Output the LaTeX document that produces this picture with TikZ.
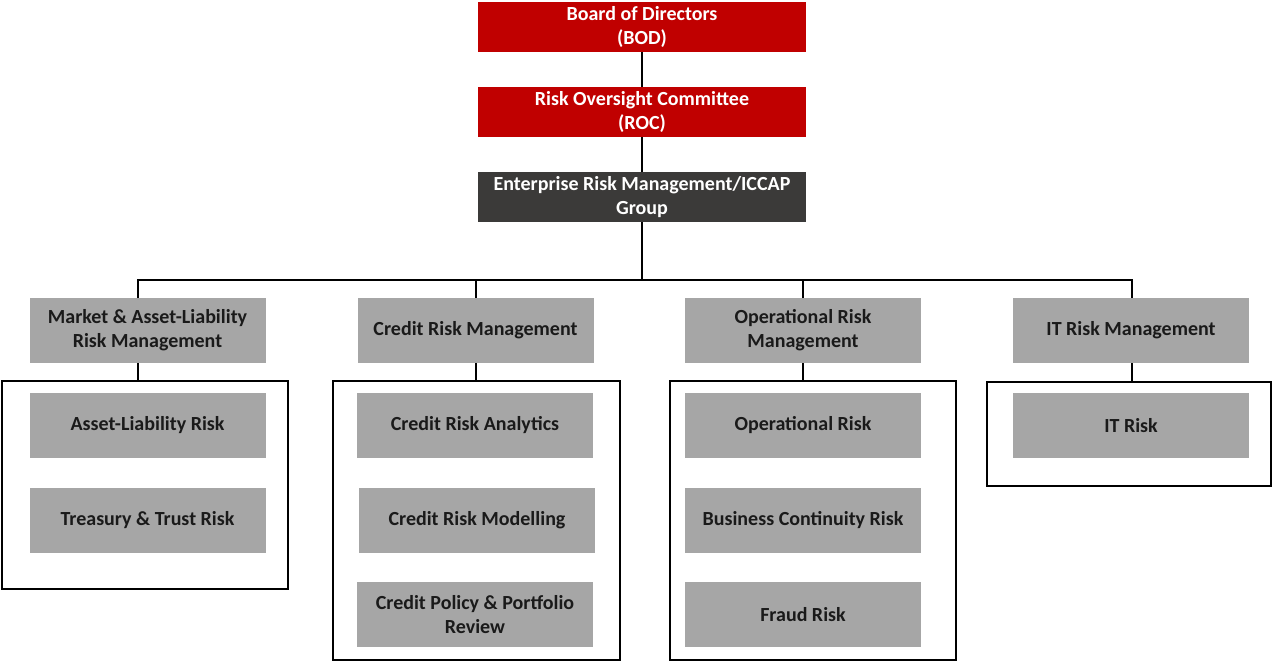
\documentclass[tikz,border=0pt]{standalone}
\usepackage{fontspec}
\setmainfont{Carlito}
\definecolor{boardred}{HTML}{C00000}
\definecolor{ermgray}{HTML}{3B3A39}
\definecolor{unitgray}{HTML}{A6A6A6}
\definecolor{inktext}{HTML}{1A1A1A}
\begin{document}
\begin{tikzpicture}[x=0.75pt,y=-0.75pt,
  every node/.style={inner sep=0pt,outer sep=0pt,font=\bfseries\fontsize{15}{18}\selectfont,align=center},
  topbox/.style={rectangle,fill=boardred,text=white,minimum width=246pt,minimum height=37.5pt},
  ermbox/.style={rectangle,fill=ermgray,text=white,minimum width=246pt,minimum height=37.5pt},
  unitbox/.style={rectangle,fill=unitgray,text=inktext,minimum width=177pt,minimum height=48.75pt},
  groupbox/.style={rectangle,draw=black,line width=1.1pt},
  link/.style={draw=black,line width=1.5pt}]
\useasboundingbox (0,0) rectangle (1272,662);

% governance chain
\node[topbox] (bod) at (642,27) {Board of Directors\\(BOD)};
\node[topbox] (roc) at (642,112) {Risk Oversight Committee\\(ROC)};
\node[ermbox] (erm) at (642,197) {Enterprise Risk Management/ICCAP\\Group};

% risk management units
\node[unitbox] (mkt) at (147.5,330.5) {Market \& Asset-Liability\\Risk Management};
\node[unitbox] (crm) at (475.5,330.5) {Credit Risk Management};
\node[unitbox] (orm) at (803,330.5) {Operational Risk\\Management};
\node[unitbox] (itm) at (1131,330.5) {IT Risk Management};

% frames around each unit's teams
\node[groupbox,minimum width=214.5pt,minimum height=156pt] (mktg) at (145,485) {};
\node[groupbox,minimum width=215.25pt,minimum height=209pt] (crmg) at (476.5,520.5) {};
\node[groupbox,minimum width=214.5pt,minimum height=209pt] (ormg) at (813,520.5) {};
\node[groupbox,minimum width=213pt,minimum height=78pt] (itmg) at (1129,434) {};

% teams
\node[unitbox] (alr) at (147.5,425.5) {Asset-Liability Risk};
\node[unitbox] (ttr) at (147.5,520) {Treasury \& Trust Risk};
\node[unitbox] (cra) at (475,425.5) {Credit Risk Analytics};
\node[unitbox] (crmod) at (477,520) {Credit Risk Modelling};
\node[unitbox] (cpr) at (475,614.5) {Credit Policy \& Portfolio\\Review};
\node[unitbox] (opr) at (803,425.5) {Operational Risk};
\node[unitbox] (bcr) at (803,520) {Business Continuity Risk};
\node[unitbox] (frd) at (803,614.5) {Fraud Risk};
\node[unitbox] (itr) at (1131,425.5) {IT Risk};

% connectors
\coordinate (busL) at (138,280);
\coordinate (busR) at (1132,280);
\path[link] (bod.south) -- (roc.north);
\path[link] (roc.south) -- (erm.north);
\path[link] (erm.south) -- (erm.south |- busL);
\path[link] (busL |- mkt.north) -- (busL) -- (busR) -- (busR |- itm.north);
\path[link] (crm.north) -- (crm.north |- busL);
\path[link] (orm.north) -- (orm.north |- busL);
\path[link] (busL |- mkt.south) -- (busL |- mktg.north);
\path[link] (crm.south) -- (crm.south |- crmg.north);
\path[link] (orm.south) -- (orm.south |- ormg.north);
\path[link] (busR |- itm.south) -- (busR |- itmg.north);
\end{tikzpicture}
\end{document}
